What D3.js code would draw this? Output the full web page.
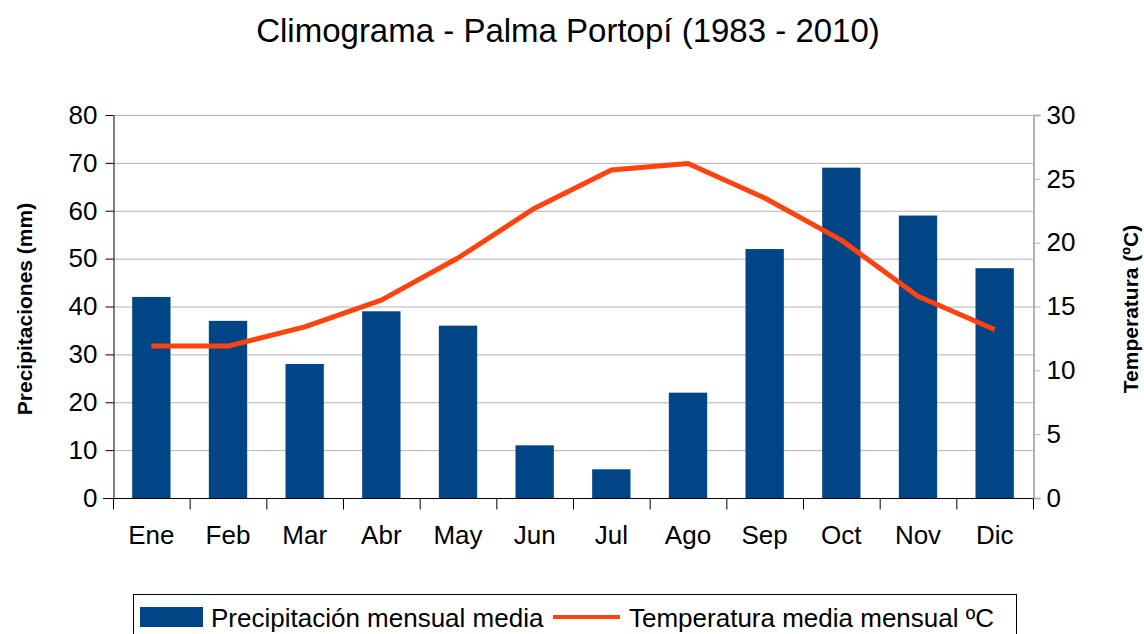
<!DOCTYPE html>
<html>
<head>
<meta charset="utf-8">
<script src="https://cdn.jsdelivr.net/npm/d3@7"></script>
<style>
  body { margin: 0; background: #fff; }
  text { font-family: "Liberation Sans", Arial, sans-serif; fill: #000; }
</style>
</head>
<body>
<svg width="1144" height="634"></svg>
<script>
const months = ["Ene", "Feb", "Mar", "Abr", "May", "Jun", "Jul", "Ago", "Sep", "Oct", "Nov", "Dic"];
const precip = [42, 37, 28, 39, 36, 11, 6, 22, 52, 69, 59, 48];
const temp = [11.9, 11.9, 13.4, 15.5, 18.8, 22.7, 25.7, 26.2, 23.5, 20.2, 15.8, 13.2];
const precipTicks = [0, 10, 20, 30, 40, 50, 60, 70, 80];
const tempTicks = [0, 5, 10, 15, 20, 25, 30];

const margin = { top: 115, right: 111, bottom: 136, left: 113 },
      width = 1144 - margin.left - margin.right,
      height = 634 - margin.top - margin.bottom;

const svg = d3.select("svg");
const g = svg.append("g")
    .attr("transform", `translate(${margin.left},${margin.top})`);

const x = d3.scaleBand()
    .domain(months)
    .range([0, width])
    .paddingInner(0.5)
    .paddingOuter(0.25);

const xBand = d3.scaleBand().domain(months).range([0, width]);

const yP = d3.scaleLinear().domain([0, 80]).range([height, 0]);
const yT = d3.scaleLinear().domain([0, 30]).range([height, 0]);

// gridlines
g.append("g")
    .selectAll("line")
    .data(precipTicks.slice(1))
    .enter()
    .append("line")
    .attr("x1", 0)
    .attr("x2", width)
    .attr("y1", d => yP(d) + 0.5)
    .attr("y2", d => yP(d) + 0.5)
    .attr("stroke", "#b3b3b3")
    .attr("stroke-width", 1);

// bars
g.selectAll("rect.bar")
    .data(precip)
    .enter()
    .append("rect")
    .attr("class", "bar")
    .attr("x", (d, i) => x(months[i]))
    .attr("width", x.bandwidth())
    .attr("y", d => yP(d))
    .attr("height", d => height - yP(d))
    .attr("fill", "#004586");

// temperature line
const line = d3.line()
    .x((d, i) => xBand(months[i]) + xBand.bandwidth() / 2)
    .y(d => yT(d));

g.append("path")
    .datum(temp)
    .attr("fill", "none")
    .attr("stroke", "#ff420e")
    .attr("stroke-width", 5)
    .attr("stroke-linejoin", "round")
    .attr("d", line);

// right axis (gray)
const rightAxis = g.append("g")
    .attr("transform", `translate(${width + 0.5},0)`)
    .call(d3.axisRight(yT).tickValues(tempTicks).tickSize(7).tickPadding(6));
rightAxis.select(".domain").attr("stroke", "#b3b3b3").attr("stroke-width", 2);
rightAxis.selectAll(".tick line").attr("stroke", "#b3b3b3");
rightAxis.selectAll("text").attr("font-size", "26px").attr("font-family", "Liberation Sans, Arial, sans-serif");

// left axis
const leftAxis = g.append("g")
    .attr("transform", "translate(0.5,0)")
    .call(d3.axisLeft(yP).tickValues(precipTicks).tickSize(8).tickSizeOuter(0).tickPadding(8));
leftAxis.selectAll("text").attr("font-size", "26px").attr("font-family", "Liberation Sans, Arial, sans-serif");

// bottom axis with ticks on category boundaries
const bottom = g.append("g")
    .attr("transform", `translate(0,${height + 0.5})`);
bottom.append("line")
    .attr("x1", -10).attr("x2", width)
    .attr("stroke", "#000");
bottom.selectAll("line.tick")
    .data(months.concat(["end"]))
    .enter()
    .append("line")
    .attr("class", "tick")
    .attr("x1", (d, i) => i * xBand.step() + 0.5)
    .attr("x2", (d, i) => i * xBand.step() + 0.5)
    .attr("y1", 0).attr("y2", 11)
    .attr("stroke", "#000");
bottom.selectAll("text")
    .data(months)
    .enter()
    .append("text")
    .attr("x", d => xBand(d) + xBand.bandwidth() / 2)
    .attr("y", 45)
    .attr("text-anchor", "middle")
    .attr("font-size", "26px")
    .text(d => d);

// title
svg.append("text")
    .attr("x", 568)
    .attr("y", 42)
    .attr("text-anchor", "middle")
    .attr("font-size", "33px")
    .text("Climograma - Palma Portopí (1983 - 2010)");

// axis titles
svg.append("text")
    .attr("transform", "translate(32,309) rotate(-90)")
    .attr("text-anchor", "middle")
    .attr("font-size", "21px")
    .attr("font-weight", "bold")
    .text("Precipitaciones (mm)");

svg.append("text")
    .attr("transform", "translate(1138,309) rotate(-90)")
    .attr("text-anchor", "middle")
    .attr("font-size", "21px")
    .attr("font-weight", "bold")
    .text("Temperatura (ºC)");

// --- Legend ---
const legend = svg.append("g");
legend.append("rect")
    .attr("x", 133.5).attr("y", 594.5)
    .attr("width", 883).attr("height", 60)
    .attr("fill", "none")
    .attr("stroke", "#000");

legend.append("rect")
    .attr("x", 140).attr("y", 607)
    .attr("width", 63).attr("height", 20)
    .attr("fill", "#004586");
legend.append("text")
    .attr("x", 211).attr("y", 627)
    .attr("font-size", "26px")
    .text("Precipitación mensual media");

legend.append("line")
    .attr("x1", 553).attr("x2", 620)
    .attr("y1", 617).attr("y2", 617)
    .attr("stroke", "#ff420e")
    .attr("stroke-width", 4);
legend.append("text")
    .attr("x", 629).attr("y", 627)
    .attr("font-size", "26px")
    .text("Temperatura media mensual ºC");
</script>
</body>
</html>
